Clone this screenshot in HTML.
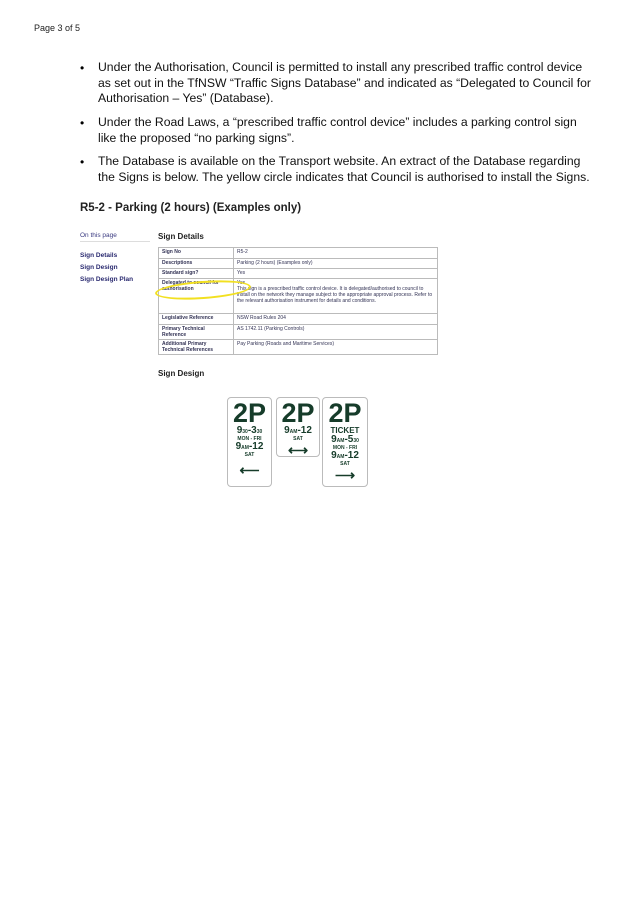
<html><head><style>
body{margin:0;width:637px;height:901px;background:#fff;font-family:"Liberation Sans",sans-serif;position:relative;overflow:hidden}
.a{position:absolute}
.b{font-size:12.2px;color:#111;line-height:15.5px;white-space:nowrap}
.dot{position:absolute;left:80px;font-size:12px}
td{border:1px solid #bbb;font-size:5px;color:#335;padding:1px 3px;vertical-align:top;font-weight:bold}
td+td{font-weight:normal}
.s{position:absolute;border:1.5px solid #bbb;border-radius:4px;background:#fff;color:#163c2a;text-align:center;font-weight:bold}
.big{font-size:27px;line-height:26px;margin-top:2px}
.sm{font-size:10px;line-height:10px}
.xs{font-size:5px;line-height:6px}
</style></head><body>
<div class="a" style="left:34px;top:23px;font-size:9px;color:#222">Page 3 of 5</div>
<div class="dot" style="top:61px">•</div>
<div class="a b" style="left:98px;top:60px">Under the Authorisation, Council is permitted to install any prescribed traffic control device<br>as set out in the TfNSW “Traffic Signs Database” and indicated as “Delegated to Council for<br>Authorisation – Yes” (Database).</div>
<div class="dot" style="top:116px">•</div>
<div class="a b" style="left:98px;top:115px">Under the Road Laws, a “prescribed traffic control device” includes a parking control sign<br>like the proposed “no parking signs”.</div>
<div class="dot" style="top:155px">•</div>
<div class="a b" style="left:98px;top:154px">The Database is available on the Transport website. An extract of the Database regarding<br>the Signs is below. The yellow circle indicates that Council is authorised to install the Signs.</div>
<div class="a" style="left:80px;top:202px;font-size:11.5px;font-weight:bold;color:#222">R5-2 - Parking (2 hours) (Examples only)</div>
<div class="a" style="left:80px;top:232px;font-size:6.5px;color:#3a3a80">On this page</div>
<div class="a" style="left:80px;top:241px;width:70px;border-top:1px solid #ddd"></div>
<div class="a" style="left:80px;top:250px;font-size:6.5px;color:#2a2a70;font-weight:bold;line-height:12px">Sign Details<br>Sign Design<br>Sign Design Plan</div>
<div class="a" style="left:158px;top:232px;font-size:8px;font-weight:bold;color:#222">Sign Details</div>
<table class="a" style="left:158px;top:247px;width:280px;border-collapse:collapse">
<tr style="height:11px"><td style="width:68px">Sign No</td><td>R5-2</td></tr>
<tr style="height:10px"><td>Descriptions</td><td>Parking (2 hours) (Examples only)</td></tr>
<tr style="height:10px"><td>Standard sign?</td><td>Yes</td></tr>
<tr style="height:35px"><td>Delegated to council for authorisation</td><td>Yes<br>This sign is a prescribed traffic control device. It is delegated/authorised to council to install on the network they manage subject to the appropriate approval process. Refer to the relevant authorisation instrument for details and conditions.</td></tr>
<tr style="height:11px"><td>Legislative Reference</td><td>NSW Road Rules 204</td></tr>
<tr style="height:10px"><td>Primary Technical Reference</td><td>AS 1742.11 (Parking Controls)</td></tr>
<tr style="height:15px"><td>Additional Primary Technical References</td><td>Pay Parking (Roads and Maritime Services)</td></tr>
</table>
<div class="a" style="left:155px;top:281px;width:92px;height:14px;border:2px solid #f2e020;border-radius:50%;transform:rotate(-4deg)"></div>
<div class="a" style="left:158px;top:369px;font-size:8px;font-weight:bold;color:#222">Sign Design</div>
<div class="s" style="left:227px;top:397px;width:43px;height:88px"><div class="big">2P</div><div class="sm">9<span class="xs">30</span>-3<span class="xs">30</span></div><div class="xs">MON - FRI</div><div class="sm">9<span class="xs">AM</span>-12</div><div class="xs">SAT</div><div style="font-size:14px;margin-top:4px">⟵</div></div>
<div class="s" style="left:276px;top:397px;width:42px;height:58px"><div class="big">2P</div><div class="sm">9<span class="xs">AM</span>-12</div><div class="xs">SAT</div><div style="font-size:14px">⟷</div></div>
<div class="s" style="left:322px;top:397px;width:44px;height:88px"><div class="big">2P</div><div style="font-size:8px">TICKET</div><div class="sm">9<span class="xs">AM</span>-5<span class="xs">30</span></div><div class="xs">MON - FRI</div><div class="sm">9<span class="xs">AM</span>-12</div><div class="xs">SAT</div><div style="font-size:14px">⟶</div></div>
</body></html>
